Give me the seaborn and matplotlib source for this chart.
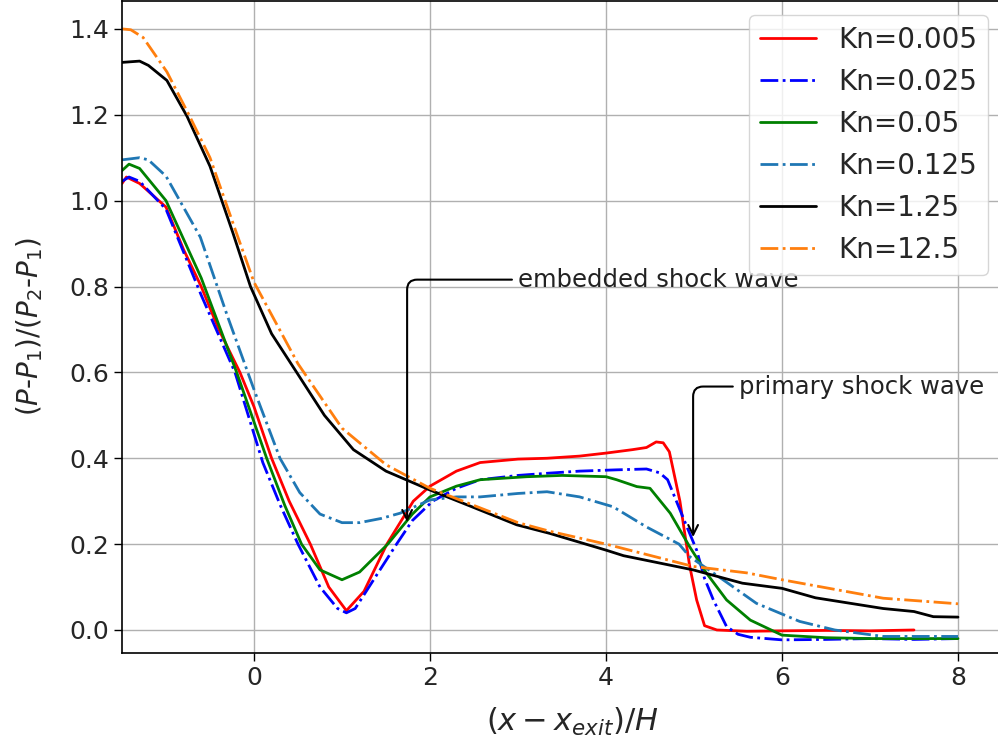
import matplotlib
matplotlib.use("Agg")
import matplotlib.pyplot as plt
import seaborn as sns
import pandas as pd

# ---- data ----
x_kn0005 = [-1.5, -1.45, -1.3, -1.0, -0.8, -0.6, -0.4, -0.16, 0.0, 0.2, 0.4, 0.64, 0.85, 1.05, 1.25, 1.51,
            1.81, 2.0, 2.3, 2.57, 3.0, 3.33, 3.7, 4.0, 4.3, 4.46, 4.57, 4.65, 4.72, 4.84, 4.95, 5.03, 5.12,
            5.26, 5.6, 6.0, 6.5, 7.0, 7.5]
y_kn0005 = [1.04, 1.055, 1.04, 0.985, 0.886, 0.80, 0.70, 0.60, 0.52, 0.40, 0.30, 0.20, 0.10, 0.045, 0.09, 0.20,
            0.30, 0.335, 0.37, 0.39, 0.398, 0.40, 0.405, 0.412, 0.42, 0.425, 0.438, 0.436, 0.415, 0.30, 0.15,
            0.07, 0.01, 0.0, -0.003, -0.002, -0.001, -0.002, 0.0]

x_kn0025 = [-1.5, -1.42, -1.3, -1.0, -0.8, -0.6, -0.216, 0.1, 0.3, 0.5, 0.75, 0.95, 1.05, 1.15, 1.4, 1.62,
            1.8, 2.03, 2.3, 2.57, 3.0, 3.33, 3.7, 4.12, 4.46, 4.61, 4.7, 4.8, 4.9, 5.03, 5.12, 5.22, 5.37,
            5.5, 5.64, 6.0, 6.5, 7.0, 7.5, 8.0]
y_kn0025 = [1.045, 1.055, 1.045, 0.98, 0.88, 0.78, 0.60, 0.39, 0.29, 0.20, 0.10, 0.05, 0.04, 0.05, 0.13, 0.20,
            0.255, 0.30, 0.33, 0.35, 0.36, 0.365, 0.37, 0.373, 0.375, 0.366, 0.35, 0.30, 0.25, 0.186, 0.12,
            0.07, 0.008, -0.01, -0.017, -0.023, -0.022, -0.02, -0.022, -0.02]

x_kn005 = [-1.5, -1.42, -1.3, -1.0, -0.8, -0.6, -0.197, 0.144, 0.35, 0.54, 0.75, 1.0, 1.2, 1.52, 1.8, 2.0,
           2.3, 2.57, 3.1, 3.5, 4.0, 4.12, 4.35, 4.5, 4.73, 4.95, 5.14, 5.37, 5.64, 6.0, 6.5, 7.0, 7.5, 8.0]
y_kn005 = [1.07, 1.085, 1.075, 1.0, 0.91, 0.82, 0.60, 0.40, 0.29, 0.20, 0.14, 0.117, 0.135, 0.20, 0.27, 0.31,
           0.335, 0.35, 0.357, 0.36, 0.357, 0.35, 0.334, 0.33, 0.272, 0.194, 0.133, 0.07, 0.023, -0.012,
           -0.018, -0.02, -0.02, -0.02]

x_kn0125 = [-1.5, -1.3, -1.2, -1.0, -0.61, -0.3, 0.0, 0.295, 0.52, 0.75, 1.0, 1.2, 1.45, 1.66, 2.0, 2.3,
            2.57, 3.0, 3.33, 3.7, 4.08, 4.46, 4.83, 4.95, 5.33, 5.71, 6.2, 6.6, 7.15, 7.6, 8.0]
y_kn0125 = [1.095, 1.10, 1.095, 1.057, 0.915, 0.73, 0.56, 0.40, 0.32, 0.27, 0.25, 0.25, 0.26, 0.272, 0.303,
            0.31, 0.31, 0.318, 0.322, 0.31, 0.287, 0.24, 0.20, 0.171, 0.117, 0.062, 0.02, 0.0, -0.015,
            -0.015, -0.015]

x_kn125 = [-1.5, -1.3, -1.2, -0.99, -0.76, -0.5, -0.24, -0.04, 0.2, 0.485, 0.8, 1.13, 1.5, 2.0, 2.5, 2.985,
           3.36, 4.0, 4.2, 4.99, 5.55, 6.0, 6.38, 7.15, 7.5, 7.72, 8.0]
y_kn125 = [1.322, 1.325, 1.315, 1.28, 1.196, 1.08, 0.925, 0.80, 0.69, 0.60, 0.50, 0.42, 0.37, 0.326, 0.285,
           0.245, 0.225, 0.186, 0.173, 0.14, 0.109, 0.097, 0.075, 0.05, 0.043, 0.031, 0.03]

x_kn125b = [-1.5, -1.4, -1.26, -0.99, -0.73, -0.5, -0.2, 0.0, 0.5, 1.0, 1.5, 2.0, 2.5, 3.0, 3.36, 4.0, 4.99,
            5.6, 6.0, 7.15, 8.0]
y_kn125b = [1.40, 1.398, 1.38, 1.30, 1.196, 1.10, 0.925, 0.81, 0.62, 0.47, 0.385, 0.33, 0.29, 0.25, 0.23,
            0.20, 0.148, 0.133, 0.117, 0.074, 0.061]

labels = ["Kn=0.005", "Kn=0.025", "Kn=0.05", "Kn=0.125", "Kn=1.25", "Kn=12.5"]
series_x = [x_kn0005, x_kn0025, x_kn005, x_kn0125, x_kn125, x_kn125b]
series_y = [y_kn0005, y_kn0025, y_kn005, y_kn0125, y_kn125, y_kn125b]
colors = ["red", "blue", "green", "#1f77b4", "black", "#ff7f0e"]
styles = ["-", "-.", "-", "-.", "-", "-."]

sns.set_style("ticks")
plt.rcParams["font.family"] = ["DejaVu Sans"]

fig = plt.figure(figsize=(9.98, 7.48), dpi=100)
ax = fig.add_axes([122 / 998, 95 / 748, 900 / 998, 652 / 748])

for xs, ys, lab, col, ls in zip(series_x, series_y, labels, colors, styles):
    df = pd.DataFrame({"x": xs, "y": ys})
    sns.lineplot(data=df, x="x", y="y", ax=ax, color=col, linestyle=ls, lw=2.0,
                 label=lab, sort=False, estimator=None)

# 88 px per x-unit -> 900 px spans 10.227 units
ax.set_xlim(-1.5, -1.5 + 900 / 88)
ax.set_ylim(-0.0536, 1.465)
ax.set_xticks([0, 2, 4, 6, 8])
ax.set_yticks([0.0, 0.2, 0.4, 0.6, 0.8, 1.0, 1.2, 1.4])
ax.set_yticklabels(["0.0", "0.2", "0.4", "0.6", "0.8", "1.0", "1.2", "1.4"])
ax.grid(True, color="#b0b0b0", lw=1.0)
ax.tick_params(labelsize=18, length=6, width=1.0, color="black")
for sp in ax.spines.values():
    sp.set_color("black")
    sp.set_linewidth(1.2)

ax.set_xlabel(r"$(x-x_{exit})/H$", fontsize=22, labelpad=11)
ax.set_ylabel(r"($P$-$P_1$)/($P_2$-$P_1$)", fontsize=20, labelpad=17)

ax.annotate("embedded shock wave", xy=(1.74, 0.245), xytext=(3.0, 0.816),
            fontsize=17.5, va="center", ha="left", color="#222222",
            arrowprops=dict(arrowstyle="->", color="black", lw=1.5,
                            connectionstyle="angle,angleA=0,angleB=90,rad=10"))
ax.annotate("primary shock wave", xy=(4.99, 0.21), xytext=(5.51, 0.567),
            fontsize=17.5, va="center", ha="left", color="#222222",
            arrowprops=dict(arrowstyle="->", color="black", lw=1.5,
                            connectionstyle="angle,angleA=0,angleB=90,rad=10"))

ax.legend(loc="upper right", fontsize=20, frameon=True,
          bbox_to_anchor=(988 / 998, 733 / 748), bbox_transform=fig.transFigure, borderaxespad=0.0)

fig.savefig("out.png", dpi=100)
